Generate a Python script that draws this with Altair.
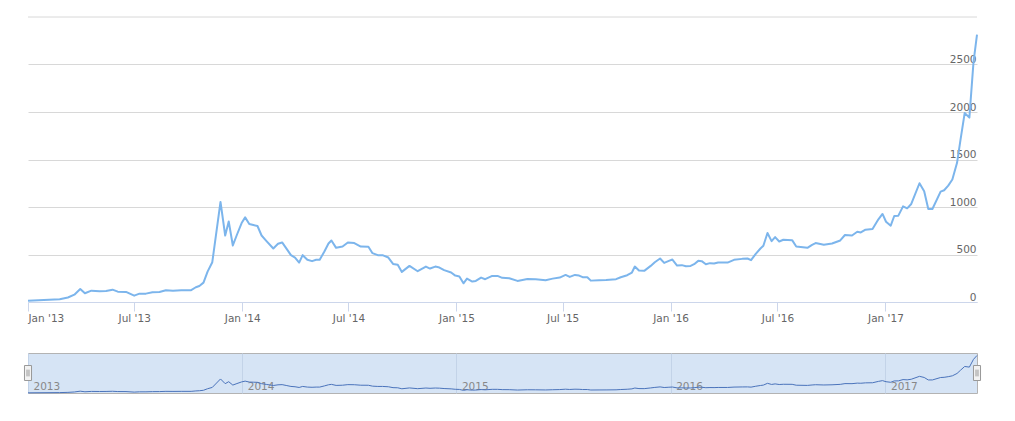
import altair as alt
import pandas as pd

# ---- data (weekly-ish closing prices) ----
dates_2013 = ["2013-01-01","2013-02-24","2013-03-10","2013-03-21","2013-03-31","2013-04-08","2013-04-19","2013-05-03",
              "2013-05-14","2013-05-25","2013-06-03","2013-06-17","2013-07-01","2013-07-10","2013-07-21","2013-08-01",
              "2013-08-13","2013-08-24","2013-09-05","2013-09-19","2013-10-06","2013-10-14","2013-10-20","2013-10-27",
              "2013-11-03","2013-11-11","2013-11-25","2013-12-03","2013-12-09","2013-12-16","2013-12-23","2013-12-31"]
prices_2013 = [13,30,47,77,137,92,119,113,116,130,109,106,67,88,88,102,106,124,119,124,124,155,169,204,320,419,
               1053,700,848,595,708,831]

dates_2014 = ["2014-01-06","2014-01-13","2014-01-20","2014-01-27","2014-02-03","2014-02-11","2014-02-23","2014-03-03",
              "2014-03-10","2014-03-18","2014-03-25","2014-04-01","2014-04-08","2014-04-14","2014-04-22","2014-04-30",
              "2014-05-07","2014-05-13","2014-05-21","2014-05-28","2014-06-02","2014-06-10","2014-06-21","2014-06-30",
              "2014-07-11","2014-07-22","2014-08-04","2014-08-11","2014-08-20","2014-08-28","2014-09-07","2014-09-15",
              "2014-09-23","2014-09-30","2014-10-13","2014-10-27","2014-11-10","2014-11-17","2014-11-26","2014-12-03",
              "2014-12-11","2014-12-23","2014-12-30"]
prices_2014 = [891,821,810,800,700,644,563,613,627,556,493,468,415,493,444,430,444,444,532,616,648,570,584,627,
               620,584,581,514,493,493,468,401,391,317,380,324,373,352,373,363,335,310,278]

dates_2015 = ["2015-01-06","2015-01-13","2015-01-19","2015-01-28","2015-02-03","2015-02-12","2015-02-19","2015-03-03",
              "2015-03-12","2015-03-20","2015-04-01","2015-04-15","2015-05-02","2015-05-16","2015-06-02","2015-06-14",
              "2015-06-26","2015-07-06","2015-07-13","2015-07-22","2015-07-29","2015-08-04","2015-08-12","2015-08-18",
              "2015-09-01","2015-09-13","2015-09-30","2015-10-08","2015-10-19","2015-10-27","2015-11-01","2015-11-08",
              "2015-11-17","2015-11-28","2015-12-05","2015-12-14","2015-12-21","2015-12-29"]
prices_2015 = [268,197,246,215,222,257,240,275,275,254,250,222,243,240,229,246,257,285,264,285,278,261,261,225,
               229,232,240,261,282,310,373,331,328,380,419,458,412,433]

dates_2016 = ["2016-01-04","2016-01-12","2016-01-20","2016-01-27","2016-02-04","2016-02-10","2016-02-17","2016-02-23",
              "2016-03-01","2016-03-08","2016-03-15","2016-03-22","2016-04-07","2016-04-18","2016-05-02","2016-05-11",
              "2016-05-17","2016-05-25","2016-06-02","2016-06-07","2016-06-14","2016-06-21","2016-06-27","2016-07-04",
              "2016-07-11","2016-07-26","2016-08-02","2016-08-21","2016-08-29","2016-09-04","2016-09-18","2016-10-02",
              "2016-10-16","2016-10-24","2016-11-05","2016-11-14","2016-11-20","2016-11-28","2016-12-10","2016-12-20",
              "2016-12-27"]
prices_2016 = [447,384,388,377,380,398,433,430,398,409,405,415,415,444,454,458,440,507,563,592,726,641,683,637,
               655,651,584,570,602,620,602,616,648,705,700,740,732,761,768,870,927]

dates_2017 = ["2017-01-02","2017-01-10","2017-01-16","2017-01-23","2017-01-31","2017-02-07","2017-02-14","2017-02-28",
              "2017-03-08","2017-03-15","2017-03-22","2017-04-05","2017-04-11","2017-04-18","2017-04-25","2017-05-03",
              "2017-05-09","2017-05-16","2017-05-24","2017-05-31","2017-06-06"]
prices_2017 = [845,803,905,909,1007,986,1032,1250,1165,979,979,1162,1176,1225,1289,1465,1711,1989,1941,2522,2814]

y_ticks = [0, 500, 1000, 1500, 2000, 2500]
y_top = 3000
x_tick_dates = [(y, m) for y in range(2013, 2018) for m in (1, 7)]
nav_years = [2013, 2014, 2015, 2016, 2017]

all_dates = dates_2013 + dates_2014 + dates_2015 + dates_2016 + dates_2017
all_prices = prices_2013 + prices_2014 + prices_2015 + prices_2016 + prices_2017
df = pd.DataFrame({"date": all_dates, "price": all_prices})

start = alt.DateTime(year=2013, month=1, date=1, utc=True)
end = alt.DateTime(year=2017, month=6, date=6, utc=True)
xscale = alt.Scale(type="utc", domain=[start, end])

font = "DejaVu Sans"
fs = 10.5

# ---- main chart ----
x_main = alt.X(
    "date:T", scale=xscale, title=None,
    axis=alt.Axis(
        values=[alt.DateTime(year=y, month=m, date=1, utc=True) for y, m in x_tick_dates],
        format="%b '%y", grid=False, domainColor="#ccd6eb", tickColor="#ccd6eb",
        tickSize=9, labelPadding=2, labelFlush=True, labelColor="#666666",
        labelFontSize=fs, labelFont=font, zindex=1,
    ),
)
y_main = alt.Y(
    "price:Q", scale=alt.Scale(domain=[0, y_top], nice=False), title=None,
    axis=alt.Axis(
        orient="right", values=y_ticks, format="d", grid=True, gridColor="#d8d8d8", domain=False,
        ticks=False, labelAlign="right", labelBaseline="alphabetic", labelPadding=-1,
        labelOffset=-2, labelColor="#666666", labelFontSize=fs, labelFont=font,
    ),
)
main_line = alt.Chart(df).mark_line(color="#7cb5ec", strokeWidth=2, strokeJoin="round").encode(x=x_main, y=y_main)
top_grid = alt.Chart(pd.DataFrame({"v": [y_top]})).mark_rule(color="#d8d8d8", strokeWidth=1).encode(y="v:Q")
main = alt.layer(top_grid, main_line).properties(
    width=949, height=285, view=alt.ViewBackground(stroke="transparent", strokeWidth=0)
)

# ---- navigator ----
x_nav = alt.X(
    "date:T", scale=xscale, title=None,
    axis=alt.Axis(
        orient="top", values=[alt.DateTime(year=y, month=1, date=1, utc=True) for y in nav_years],
        format="%Y", grid=True, gridColor="#c3d3e8", ticks=False, domain=False,
        labelAlign="left", labelBaseline="alphabetic", labelPadding=-36, labelOffset=5,
        labelColor="#888888", labelFontSize=fs, labelFont=font, labelFlush=False,
    ),
)
y_nav = alt.Y("price:Q", scale=alt.Scale(domain=[0, y_top], nice=False), axis=None)
nav_line = alt.Chart(df).mark_line(color="#4a73bb", strokeWidth=1).encode(x=x_nav, y=y_nav)

handle_df = pd.DataFrame({"date": [all_dates[0], all_dates[-1]]})
handle_box = alt.Chart(handle_df).mark_point(
    shape="M-0.47,-1L0.47,-1L0.47,1L-0.47,1Z", size=225, filled=True,
    fill="#f2f2f2", stroke="#999999", strokeWidth=1, opacity=1,
).encode(x=alt.X("date:T", scale=xscale), y=alt.value(20))
handle_grip = alt.Chart(handle_df).mark_point(
    shape="M-0.13,-0.45L-0.13,0.45M0.13,-0.45L0.13,0.45", size=225, filled=False,
    stroke="#999999", strokeWidth=1, opacity=1,
).encode(x=alt.X("date:T", scale=xscale), y=alt.value(20))

nav = alt.layer(nav_line, handle_box, handle_grip).properties(
    width=949, height=40, view=alt.ViewBackground(fill="#d6e4f5", stroke="#b3b3b3")
)

chart = alt.vconcat(main, nav, spacing=51, bounds="flush").properties(
    padding={"left": 13, "top": 8, "right": 5, "bottom": 5}
).configure_view(strokeWidth=0).configure(font=font)

chart.save("out.html", embed_options={"renderer": "svg", "actions": False})
